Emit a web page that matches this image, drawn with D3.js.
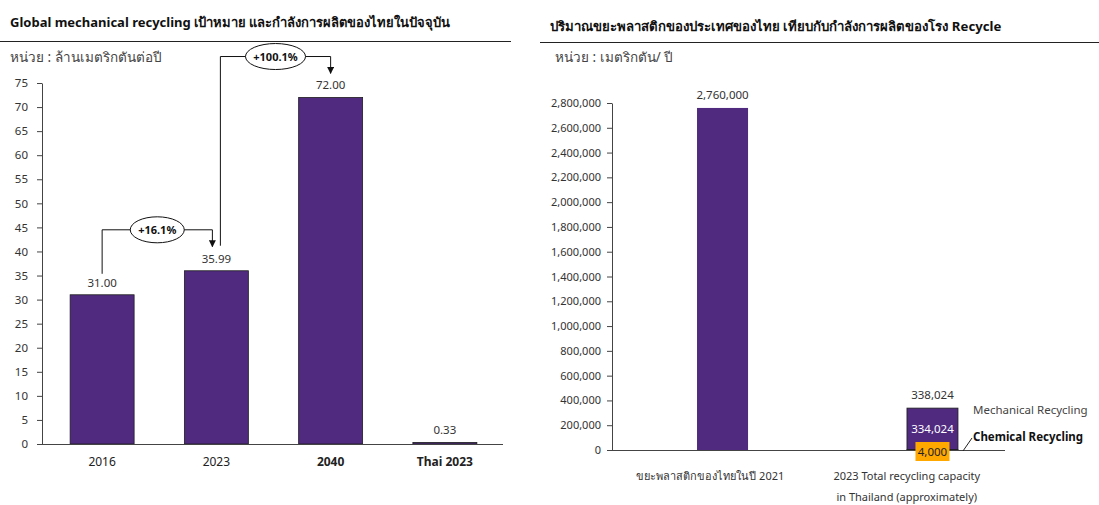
<!DOCTYPE html>
<html>
<head>
<meta charset="utf-8">
<title>Recycling charts</title>
<script src="https://d3js.org/d3.v7.min.js"></script>
<style>
  body { margin: 0; background: #fff; }
  svg text { font-family: Tahoma, "Noto Sans", "DejaVu Sans", sans-serif; }
</style>
</head>
<body>
<svg id="chart" width="1099" height="505"></svg>
<script>
// left chart data
var leftCats = ["2016", "2023", "2040", "Thai 2023"];
var leftVals = [31.00, 35.99, 72.00, 0.33];
var leftBold = ["2040", "Thai 2023"];
var leftTicks = d3.range(0, 80, 5);

// right chart data
var rightCats = ["waste", "capacity"];
var rightCatLabels = [["ขยะพลาสติกของไทยในปี 2021"], ["2023 Total recycling capacity", "in Thailand (approximately)"]];
var wasteVals = [2760000, 0];
var chemicalVals = [0, 4000];
var mechanicalVals = [0, 334024];
var rightTicks = d3.range(0, 3000000, 200000);

var purple = "#4f2a7f", orange = "#ffa800";
var svg = d3.select("#chart");

// ---------- left ----------
svg.append("text").attr("x", 10).attr("y", 27)
  .style("font-size", "13px").style("font-weight", "bold").attr("fill", "#111")
  .text("Global mechanical recycling เป้าหมาย และกำลังการผลิตของไทยในปัจจุบัน");
svg.append("line").attr("x1", 0).attr("x2", 511).attr("y1", 41.5).attr("y2", 41.5)
  .attr("stroke", "#222");
svg.append("text").attr("x", 10).attr("y", 62)
  .style("font-size", "13.5px").attr("fill", "#444").text("หน่วย : ล้านเมตริกตันต่อปี");

var xL = d3.scaleBand().domain(leftCats).range([45, 502]).paddingInner(0.44).paddingOuter(0.22);
var yL = d3.scaleLinear().domain([0, 75]).range([444, 83]);

var gL = svg.append("g");
gL.append("g").attr("transform", "translate(42,0)")
  .call(d3.axisLeft(yL).tickValues(leftTicks).tickSize(5).tickPadding(9).tickSizeOuter(0))
  .call(function (g) {
    g.selectAll("text").style("font-size", "11.5px").attr("fill", "#333");
    g.selectAll("line,path").attr("stroke", "#444");
  });

gL.selectAll("rect.bar").data(leftVals).enter().append("rect")
  .attr("x", function (d, i) { return xL(leftCats[i]); })
  .attr("width", xL.bandwidth())
  .attr("y", function (d) { return yL(d); })
  .attr("height", function (d) { return yL(0) - yL(d); })
  .attr("fill", purple).attr("stroke", "#1e1e1e").attr("stroke-width", 0.8);

gL.append("line").attr("x1", 42).attr("x2", 503).attr("y1", yL(0) + 0.5).attr("y2", yL(0) + 0.5)
  .attr("stroke", "#444");

gL.selectAll("text.val").data(leftVals).enter().append("text")
  .attr("x", function (d, i) { return xL(leftCats[i]) + xL.bandwidth() / 2; })
  .attr("y", function (d) { return yL(d) - 8; })
  .attr("text-anchor", "middle").style("font-size", "11.5px").attr("fill", "#333")
  .text(function (d) { return d.toFixed(2); });

gL.selectAll("text.cat").data(leftCats).enter().append("text")
  .attr("x", function (d) { return xL(d) + xL.bandwidth() / 2; })
  .attr("y", 466).attr("text-anchor", "middle").style("font-size", "12px")
  .style("font-weight", function (d) { return leftBold.indexOf(d) >= 0 ? "bold" : "normal"; })
  .attr("fill", "#222").text(function (d) { return d; });

// growth annotations
svg.append("defs").append("marker").attr("id", "arr").attr("viewBox", "0 0 10 10")
  .attr("refX", 9).attr("refY", 5).attr("markerWidth", 7).attr("markerHeight", 7)
  .attr("orient", "auto").append("path").attr("d", "M0,0L10,5L0,10z").attr("fill", "#111");

function cx(c) { return xL(c) + xL.bandwidth() / 2; }
function growth(x0, y0, yTop, x1, y1, label, rx) {
  var mid = (x0 + x1) / 2;
  gL.append("path")
    .attr("d", "M" + x0 + "," + y0 + "V" + yTop + "H" + x1 + "V" + y1)
    .attr("fill", "none").attr("stroke", "#111").attr("stroke-width", 1)
    .attr("marker-end", "url(#arr)");
  gL.append("ellipse").attr("cx", mid).attr("cy", yTop).attr("rx", rx).attr("ry", 13)
    .attr("fill", "#fff").attr("stroke", "#111");
  gL.append("text").attr("x", mid).attr("y", yTop + 4).attr("text-anchor", "middle")
    .style("font-size", "11px").style("font-weight", "bold").attr("fill", "#111").text(label);
}
growth(cx("2016"), yL(31) - 21, yL(44.5), cx("2023") - 4, yL(41), "+16.1%", 27);
growth(cx("2023") + 4, yL(36) - 25, yL(80.5), cx("2040"), yL(77), "+100.1%", 30);

// ---------- right ----------
svg.append("text").attr("x", 550).attr("y", 31)
  .style("font-size", "13.2px").style("font-weight", "bold").attr("fill", "#111")
  .text("ปริมาณขยะพลาสติกของประเทศของไทย เทียบกับกำลังการผลิตของโรง Recycle");
svg.append("line").attr("x1", 540).attr("x2", 1099).attr("y1", 42.5).attr("y2", 42.5)
  .attr("stroke", "#222");
svg.append("text").attr("x", 555).attr("y", 62)
  .style("font-size", "13.5px").attr("fill", "#444").text("หน่วย : เมตริกตัน/ ปี");

var xR = d3.scaleBand().domain(rightCats).range([612, 1043]).paddingInner(0.757).paddingOuter(0.405);
// category labels sit on the axis bands, not under the bars
var xRAxis = d3.scaleBand().domain(rightCats).range([612, 1005]);
var yR = d3.scaleLinear().domain([0, 2800000]).range([450, 103]);
var fmt = d3.format(",");

var gR = svg.append("g");
gR.append("g").attr("transform", "translate(612,0)")
  .call(d3.axisLeft(yR).tickValues(rightTicks).tickSize(5).tickPadding(6).tickSizeOuter(0).tickFormat(fmt))
  .call(function (g) {
    g.selectAll("text").style("font-size", "11px").attr("fill", "#333");
    g.selectAll("line,path").attr("stroke", "#444");
  });

var stack = rightCats.map(function (c, i) {
  return [
    { y0: 0, y1: wasteVals[i], col: purple },
    { y0: wasteVals[i], y1: wasteVals[i] + chemicalVals[i], col: orange },
    { y0: wasteVals[i] + chemicalVals[i], y1: wasteVals[i] + chemicalVals[i] + mechanicalVals[i], col: purple }
  ].map(function (s) { s.cat = c; return s; });
});
var segs = [].concat.apply([], stack).filter(function (s) { return s.y1 > s.y0; });
gR.selectAll("rect.seg").data(segs).enter().append("rect")
  .attr("x", function (s) { return xR(s.cat); })
  .attr("width", xR.bandwidth())
  .attr("y", function (s) { return yR(s.y1); })
  .attr("height", function (s) { return yR(s.y0) - yR(s.y1); })
  .attr("fill", function (s) { return s.col; })
  .attr("stroke", function (s) { return s.cat === "capacity" ? "#1e1e1e" : "none"; })
  .attr("stroke-width", 0.8);

gR.append("line").attr("x1", 612).attr("x2", 1005).attr("y1", yR(0) + 0.5).attr("y2", yR(0) + 0.5)
  .attr("stroke", "#444");

function rc(c) { return xR(c) + xR.bandwidth() / 2; }
// totals
rightCats.forEach(function (c, i) {
  var tot = wasteVals[i] + chemicalVals[i] + mechanicalVals[i];
  gR.append("text").attr("x", rc(c)).attr("y", yR(tot) - 9).attr("text-anchor", "middle")
    .style("font-size", "11.5px").attr("fill", "#333").text(fmt(tot));
});
// inner labels
gR.append("text").attr("x", rc("capacity")).attr("y", 433).attr("text-anchor", "middle")
  .style("font-size", "11.5px").attr("fill", "#fff").text(fmt(mechanicalVals[1]));
gR.append("rect").attr("x", rc("capacity") - 17).attr("y", 442).attr("width", 34).attr("height", 19)
  .attr("fill", orange);
gR.append("text").attr("x", rc("capacity")).attr("y", 456).attr("text-anchor", "middle")
  .style("font-size", "11.5px").attr("fill", "#222").text(fmt(chemicalVals[1]));

// series names
gR.append("text").attr("x", 973).attr("y", 414).style("font-size", "11.5px").attr("fill", "#444")
  .text("Mechanical Recycling");
gR.append("text").attr("x", 973).attr("y", 441).style("font-size", "11.5px").style("font-weight", "bold")
  .attr("fill", "#111").text("Chemical Recycling");
gR.append("line").attr("x1", xR("capacity") + xR.bandwidth() + 5).attr("y1", 451)
  .attr("x2", 972).attr("y2", 438).attr("stroke", "#222");

// category labels
rightCats.forEach(function (c, i) {
  rightCatLabels[i].forEach(function (t, j) {
    gR.append("text").attr("x", xRAxis(c) + xRAxis.bandwidth() / 2).attr("y", 480 + j * 21)
      .attr("text-anchor", "middle").style("font-size", "11px").attr("fill", "#333").text(t);
  });
});
</script>
</body>
</html>
